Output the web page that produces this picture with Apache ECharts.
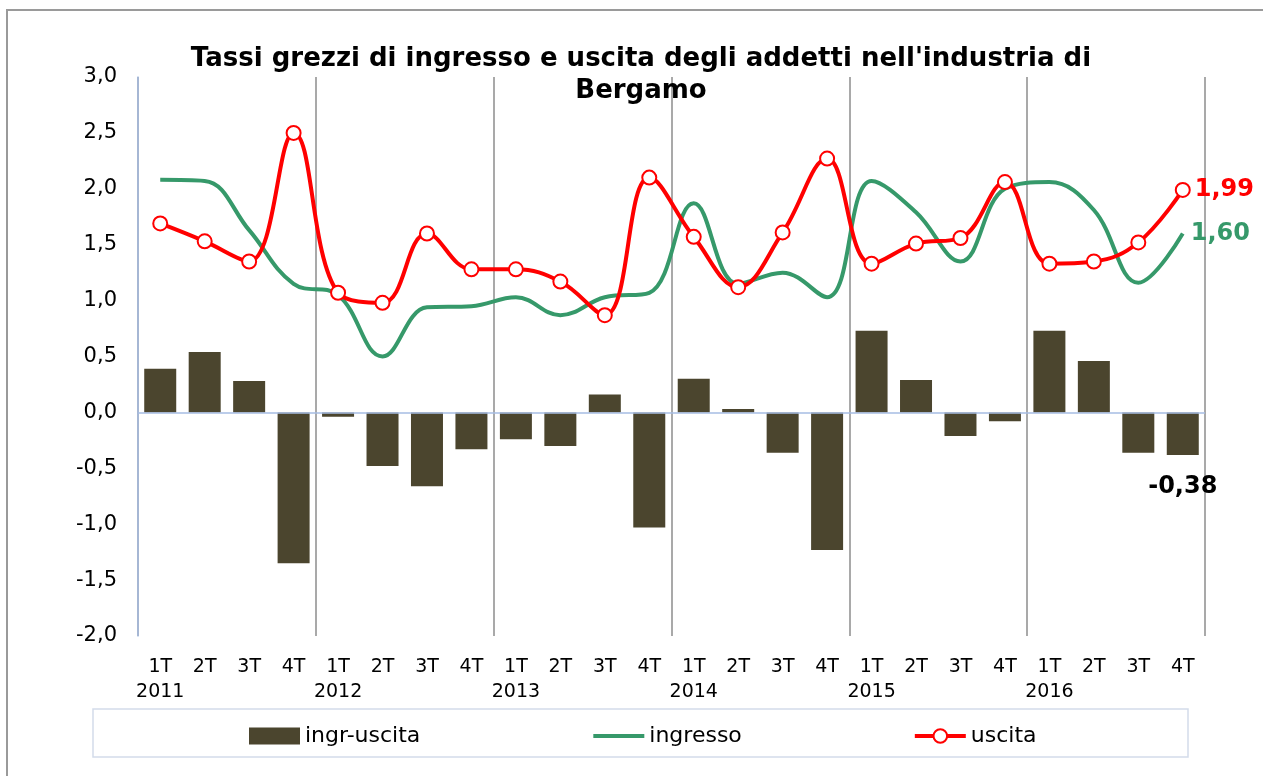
<!DOCTYPE html>
<html lang="it">
   <head>
      <title>Bergamo</title>
      <meta charset="utf-8">
      <style>
         html, body { margin: 0; padding: 0; background: #fff; }
      </style>
   </head>
   <body>
      <div id="chart1" style="width: 1263px; height: 776px;"></div>

      <script type="text/javascript" src="https://cdn.jsdelivr.net/npm/echarts@6/dist/echarts.min.js"></script>
      <script type="text/javascript">
         // dati
         let trimestri = ['1T', '2T', '3T', '4T', '1T', '2T', '3T', '4T', '1T', '2T', '3T', '4T',
                          '1T', '2T', '3T', '4T', '1T', '2T', '3T', '4T', '1T', '2T', '3T', '4T'];
         let anni = ['2011', '2012', '2013', '2014', '2015', '2016'];
         let ingrUscita = [0.39, 0.54, 0.28, -1.35, -0.04, -0.48, -0.66, -0.33, -0.24, -0.30, 0.16, -1.03,
                           0.30, 0.03, -0.36, -1.23, 0.73, 0.29, -0.21, -0.08, 0.73, 0.46, -0.36, -0.38];
         let ingresso = [2.08, 2.07, 1.63, 1.15, 1.05, 0.50, 0.94, 0.95, 1.03, 0.87, 1.03, 1.07,
                         1.87, 1.15, 1.25, 1.03, 2.07, 1.79, 1.35, 2.00, 2.06, 1.81, 1.16, 1.60];
         let uscita = [1.69, 1.53, 1.35, 2.50, 1.07, 0.98, 1.60, 1.28, 1.28, 1.17, 0.87, 2.10,
                       1.57, 1.12, 1.61, 2.27, 1.33, 1.51, 1.56, 2.06, 1.33, 1.35, 1.52, 1.99];

         let font = '"DejaVu Sans", Verdana, sans-serif';
         let fmt = function (v, d) {
             return v.toFixed(d).replace('.', ',');
         };
         // etichetta solo sull'ultimo punto
         let lastLabel = function (arr, style) {
             return arr.map(function (v, i) {
                 if (i !== arr.length - 1) return v;
                 return { value: v, label: Object.assign({ show: true, formatter: fmt(v, 2) }, style) };
             });
         };

         let myChart1 = echarts.init(document.getElementById('chart1'));
         let option1 = {
             animation: false,
             title: {
                 text: "Tassi grezzi di ingresso e uscita degli addetti nell'industria di\nBergamo",
                 left: 636,
                 textAlign: 'center',
                 top: 38,
                 textStyle: { fontFamily: font, fontSize: 26, fontWeight: 'bold', color: '#000', lineHeight: 32 }
             },
             graphic: [
                 { type: 'rect', shape: { x: 7, y: 10, width: 1300, height: 800 },
                   style: { fill: null, stroke: '#9a9a9a', lineWidth: 2 }, silent: true },
                 { type: 'rect', shape: { x: 93, y: 709, width: 1095, height: 48 },
                   style: { fill: null, stroke: '#d3dcea', lineWidth: 1.5 }, silent: true }
             ],
             legend: {
                 left: 249,
                 top: 725,
                 padding: 0,
                 itemWidth: 51,
                 itemHeight: 17,
                 itemGap: 171,
                 textStyle: { fontFamily: font, fontSize: 22, color: '#000' },
                 data: [
                     { name: 'ingr-uscita', icon: 'rect' },
                     { name: 'ingresso', itemStyle: { opacity: 0 }, lineStyle: { width: 4 } },
                     { name: 'uscita', lineStyle: { width: 4 } }
                 ]
             },
             grid: { left: 138, right: 58, top: 77, bottom: 140 },
             xAxis: [
                 {
                     type: 'category',
                     data: trimestri,
                     axisLine: { show: false },
                     axisTick: { show: false },
                     axisLabel: {
                         interval: 0,
                         margin: 19,
                         fontFamily: font,
                         fontSize: 19,
                         color: '#000',
                         lineHeight: 25,
                         formatter: function (v, i) {
                             return i % 4 === 0 ? v + '\n' + anni[i / 4] : v;
                         }
                     }
                 },
                 {
                     type: 'category',
                     data: anni,
                     position: 'top',
                     axisLine: { show: false },
                     axisTick: { show: false },
                     axisLabel: { show: false },
                     splitLine: { show: true, lineStyle: { color: '#8c8c8c', width: 1.5 } }
                 }
             ],
             yAxis: {
                 type: 'value',
                 min: -2,
                 max: 3,
                 interval: 0.5,
                 axisLine: { show: true, lineStyle: { color: '#a6bde3', width: 1.5 } },
                 axisTick: { show: false },
                 splitLine: { show: false },
                 axisLabel: {
                     margin: 21,
                     fontFamily: font,
                     fontSize: 21,
                     color: '#000',
                     formatter: function (v) { return fmt(v, 1); }
                 }
             },
             series: [
                 {
                     name: 'ingr-uscita',
                     type: 'bar',
                     barWidth: 32,
                     itemStyle: { color: '#4b452e' },
                     data: lastLabel(ingrUscita, {
                         position: 'bottom', distance: 20,
                         fontFamily: font, fontSize: 24, fontWeight: 'bold', color: '#000'
                     }),
                     markLine: {
                         silent: true,
                         symbol: 'none',
                         label: { show: false },
                         lineStyle: { color: '#a6bde3', width: 1.5, type: 'solid' },
                         data: [{ yAxis: 0 }]
                     }
                 },
                 {
                     name: 'ingresso',
                     type: 'line',
                     smooth: 0.4,
                     symbol: 'none',
                     lineStyle: { color: '#36996a', width: 4 },
                     itemStyle: { color: '#36996a' },
                     data: ingresso,
                     endLabel: {
                         show: true,
                         distance: 8,
                         formatter: function (p) { return fmt(p.value, 2); },
                         fontFamily: font, fontSize: 24, fontWeight: 'bold', color: '#36996a'
                     }
                 },
                 {
                     name: 'uscita',
                     type: 'line',
                     smooth: 0.4,
                     symbol: 'circle',
                     symbolSize: 14,
                     showAllSymbol: true,
                     lineStyle: { color: '#ff0000', width: 4 },
                     itemStyle: { color: '#ffffff', borderColor: '#ff0000', borderWidth: 2 },
                     data: lastLabel(uscita, {
                         position: 'right', distance: 4,
                         fontFamily: font, fontSize: 24, fontWeight: 'bold', color: '#ff0000'
                     })
                 }
             ]
         };
         myChart1.setOption(option1);
      </script>
   </body>
</html>
